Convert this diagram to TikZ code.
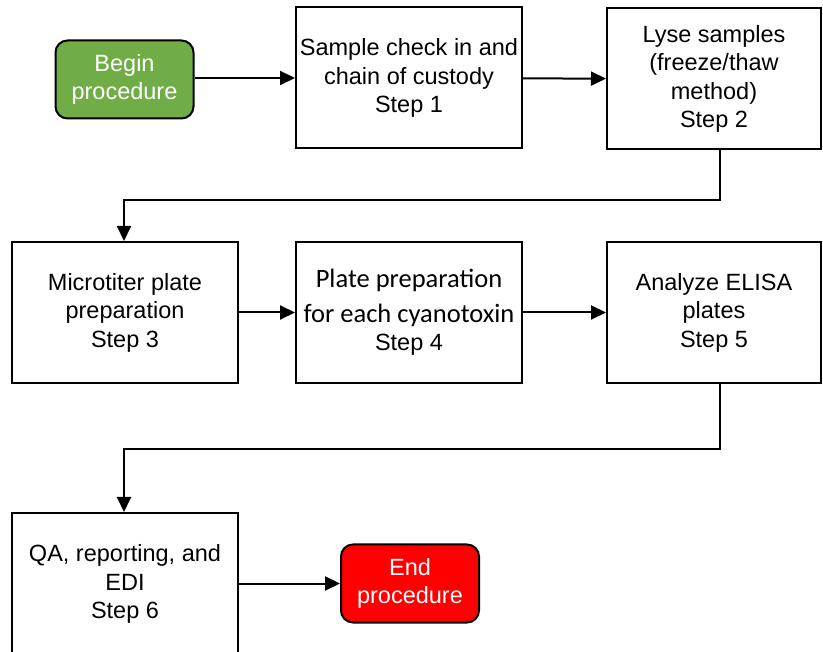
\documentclass[tikz,border=0pt]{standalone}
\usepackage{fontspec}
\setmainfont{Liberation Sans}
\newfontfamily\calfont{Carlito}
\usetikzlibrary{arrows.meta,calc}
\definecolor{startgreen}{HTML}{70AD47}
\definecolor{endred}{HTML}{FF0000}
\newcommand{\calline}{\calfont\fontsize{26.5}{35}\selectfont}
\newcommand{\stdline}{\normalfont\fontsize{23.5}{28.5}\selectfont}
\begin{document}
\begin{tikzpicture}[x=1pt,y=-1pt,
  every node/.style={font=\fontsize{23.5}{28.5}\selectfont, align=center, inner sep=0pt},
  stepbox/.style={draw=black, line width=2pt, fill=white, minimum width=226pt, minimum height=141pt},
  terminal/.style={draw=black, line width=2pt, rounded corners=12pt, minimum width=138pt, minimum height=78pt, text=white},
  flow/.style={line width=2pt, -{Triangle[length=15pt,width=14pt]}}
]
\useasboundingbox (0,0) rectangle (823,652);
\clip (0,0) rectangle (823,652);

% top row
\node[terminal, fill=startgreen] (begin) at (124.5,79.5) {Begin\\procedure};
\node[stepbox] (s1) at (409,78) {Sample check in and\\chain of custody\\Step 1};
\node[stepbox, minimum width=214pt] (s2) at (714,79) {Lyse samples\\(freeze/thaw\\method)\\Step 2};

% middle row
\node[stepbox] (s3) at (125,312.5) {Microtiter plate\\preparation\\Step 3};
\node[stepbox] (s4) at (409,312.5) {\calline Plate preparation\\[6pt]\calline for each cyanotoxin\\\stdline Step 4};
\node[stepbox, minimum width=214pt] (s5) at (714,312.5) {Analyze ELISA\\plates\\Step 5};

% bottom row
\node[stepbox, minimum height=142pt] (s6) at (125,584) {QA, reporting, and\\EDI\\Step 6};
\node[terminal, fill=endred] (end) at (410,583.5) {End\\procedure};

% connectors
\draw[flow] (begin.east |- s1) -- (s1);
\draw[flow] (s1) -- (s2);
\draw[flow] ([xshift=6pt]s2.south) -- ++(0,50) -| ([xshift=-1pt]s3.north);
\draw[flow] (s3) -- (s4);
\draw[flow] (s4) -- (s5);
\draw[flow] ([xshift=6pt]s5.south) -- ++(0,65) -| ([xshift=-1pt]s6.north);
\draw[flow] (s6.east |- end) -- (end);
\end{tikzpicture}
\end{document}
